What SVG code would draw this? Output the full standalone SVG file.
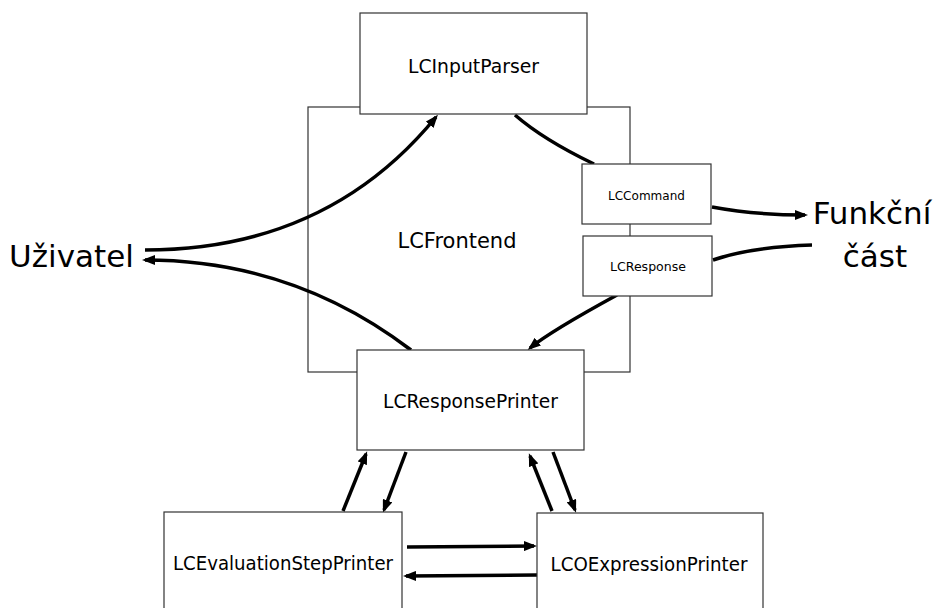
<svg xmlns="http://www.w3.org/2000/svg" width="941" height="608" viewBox="0 0 941 608">
<style>
.box{fill:#fff;stroke:#333;stroke-width:1.2}
.frame{fill:none;stroke:#333;stroke-width:1.2}
.t{font-family:"DejaVu Sans",Verdana,sans-serif;fill:#000;text-anchor:middle}
.m{font-size:19.5px}
.s{font-size:13px}
.big{font-size:31px}
.con{fill:none;stroke:#000;stroke-width:3.5}
.arr{marker-end:url(#ah)}
</style>
<defs>
<marker id="ah" viewBox="0 0 13 10" markerWidth="13" markerHeight="10" refX="10" refY="5" orient="auto" markerUnits="userSpaceOnUse">
<path d="M0,0 L13,5 L0,10 z" fill="#000"/>
</marker>
</defs>
<rect id="bg" x="0" y="0" width="941" height="608" fill="#fff"/>
<g id="LCFrontend">
<rect class="frame" x="308" y="107" width="322" height="265"/>
<text class="t" x="457" y="248" style="font-size:22px" textLength="119" lengthAdjust="spacingAndGlyphs">LCFrontend</text>
</g>
<g id="connectors">
<path class="con arr" d="M145,250 Q327,250 436,117"/>
<path class="con arr" d="M411,350 Q293,260 145,260"/>
<path class="con" d="M515,115 Q543.5,139.8 594,164"/>
<path class="con arr" d="M712,207 Q755,215 805,215"/>
<path class="con" d="M812,245 Q750,247 713,260"/>
<path class="con arr" d="M617,295 Q551,331 530,348"/>
<path class="con arr" d="M343,511 L366,454"/>
<path class="con arr" d="M406,452 L384,510"/>
<path class="con arr" d="M407,547 L534,546"/>
<path class="con arr" d="M537,575 L406,576"/>
<path class="con arr" d="M552,511 L530,456"/>
<path class="con arr" d="M553,452 L575,510"/>
</g>
<g id="LCInputParser">
<rect class="box" x="360" y="13" width="227" height="101"/>
<text class="t m" x="473.5" y="73" textLength="131" lengthAdjust="spacingAndGlyphs">LCInputParser</text>
</g>
<g id="LCCommand">
<rect class="box" x="582" y="164" width="129" height="60"/>
<text class="t s" x="646.5" y="200" textLength="77" lengthAdjust="spacingAndGlyphs">LCCommand</text>
</g>
<g id="LCResponse">
<rect class="box" x="583" y="236" width="129" height="60"/>
<text class="t s" x="648" y="271" textLength="76" lengthAdjust="spacingAndGlyphs">LCResponse</text>
</g>
<g id="LCResponsePrinter">
<rect class="box" x="357" y="350" width="227" height="100"/>
<text class="t m" x="470.5" y="408" textLength="175" lengthAdjust="spacingAndGlyphs">LCResponsePrinter</text>
</g>
<g id="LCEvaluationStepPrinter">
<rect class="box" x="164" y="512" width="238" height="120"/>
<text class="t m" x="283" y="570" textLength="220" lengthAdjust="spacingAndGlyphs">LCEvaluationStepPrinter</text>
</g>
<g id="LCOExpressionPrinter">
<rect class="box" x="537" y="513" width="226" height="120"/>
<text class="t m" x="649" y="571" textLength="197" lengthAdjust="spacingAndGlyphs">LCOExpressionPrinter</text>
</g>
<g id="Uzivatel">
<text class="t big" x="71.5" y="267">Uživatel</text>
</g>
<g id="FunkcniCast">
<text class="t big" x="872" y="224">Funkční</text>
<text class="t big" x="875" y="267">část</text>
</g>
</svg>
